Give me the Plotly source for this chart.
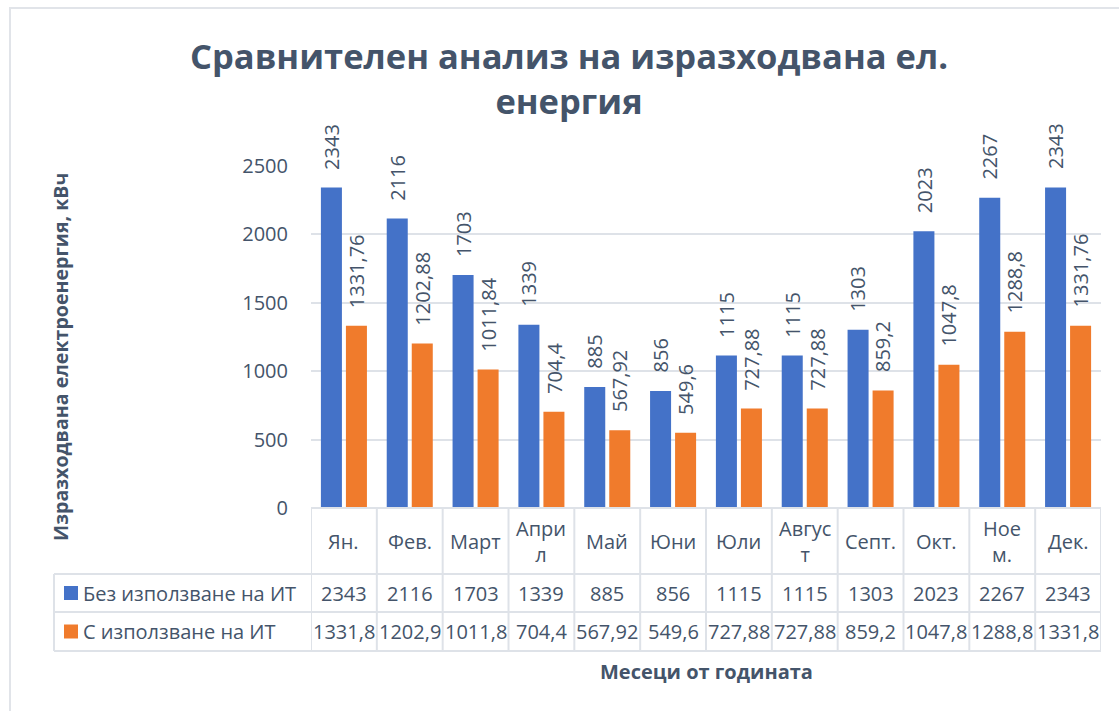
import plotly.graph_objects as go

# ---------------- data ----------------
months = ["Ян.", "Фев.", "Март", "Април", "Май", "Юни", "Юли", "Август",
          "Септ.", "Окт.", "Ноем.", "Дек."]
month_table_labels = ["Ян.", "Фев.", "Март", "Апри<br>л", "Май", "Юни", "Юли",
                      "Авгус<br>т", "Септ.", "Окт.", "Ное<br>м.", "Дек."]
series_names = ["Без използване на ИТ", "С използване на ИТ"]
without_it = [2343, 2116, 1703, 1339, 885, 856, 1115, 1115, 1303, 2023, 2267, 2343]
with_it = [1331.76, 1202.88, 1011.84, 704.4, 567.92, 549.6, 727.88, 727.88,
           859.2, 1047.8, 1288.8, 1331.76]
with_it_table = ["1331,8", "1202,9", "1011,8", "704,4", "567,92", "549,6",
                 "727,88", "727,88", "859,2", "1047,8", "1288,8", "1331,8"]
y_ticks = [0, 500, 1000, 1500, 2000, 2500]

title_text = "Сравнителен анализ на изразходвана ел.<br>енергия"
y_title = "Изразходвана електроенергия, кВч"
x_title = "Месеци от годината"

# ---------------- styling ----------------
W, H = 1119, 711
PL, PR, PT, PB = 311, 1101, 166, 508   # plot area in pixels
FONT = "Open Sans"
TXT = "#44546A"
BLUE = "#4472C8"
ORANGE = "#F07B2C"
LINE = "#DEE2E8"


def px_x(px):
    return (px - PL) / (PR - PL)


def px_y(py):
    return (PB - py) / (PB - PT)


def fmt(v):
    return f"{v:g}".replace(".", ",")


fig = go.Figure()
fig.add_trace(go.Bar(x=months, y=without_it, name=series_names[0],
                     marker=dict(color=BLUE, line=dict(width=0))))
fig.add_trace(go.Bar(x=months, y=with_it, name=series_names[1],
                     marker=dict(color=ORANGE, line=dict(width=0))))

annotations = []
shapes = []

# data labels above bars (rotated)
for i, m in enumerate(months):
    for vals, xs in ((without_it, -12.5), (with_it, 12.5)):
        annotations.append(dict(
            x=i, y=vals[i], xref="x", yref="y", text=fmt(vals[i]),
            textangle=-90, showarrow=False, xanchor="center", yanchor="bottom",
            xshift=xs, yshift=16, font=dict(family=FONT, size=20, color=TXT)))

# data table
row_cat = (508, 574)
row1 = (574, 612)
row2 = (612, 651)
for i in range(len(months)):
    annotations.append(dict(
        x=i, y=px_y(sum(row_cat) / 2), xref="x", yref="paper",
        text=month_table_labels[i], showarrow=False, xanchor="center", yanchor="middle",
        font=dict(family=FONT, size=20, color=TXT)))
    annotations.append(dict(
        x=i, y=px_y(sum(row1) / 2), xref="x", yref="paper",
        text=str(without_it[i]), showarrow=False, xanchor="center", yanchor="middle",
        font=dict(family=FONT, size=20, color=TXT)))
    annotations.append(dict(
        x=i, y=px_y(sum(row2) / 2), xref="x", yref="paper",
        text=with_it_table[i], showarrow=False, xanchor="center", yanchor="middle",
        font=dict(family=FONT, size=20, color=TXT)))

# table grid lines
for k in range(len(months) + 1):
    shapes.append(dict(type="line", xref="x", yref="paper",
                       x0=k - 0.5, x1=k - 0.5, y0=px_y(508), y1=px_y(651),
                       line=dict(color=LINE, width=2)))
shapes.append(dict(type="line", xref="paper", yref="paper",
                   x0=px_x(54), x1=px_x(54), y0=px_y(574), y1=px_y(651),
                   line=dict(color=LINE, width=2)))
shapes.append(dict(type="line", xref="paper", yref="paper",
                   x0=0, x1=1, y0=px_y(508), y1=px_y(508),
                   line=dict(color=LINE, width=2)))
for yy in (574, 612, 651):
    shapes.append(dict(type="line", xref="paper", yref="paper",
                       x0=px_x(54), x1=1, y0=px_y(yy), y1=px_y(yy),
                       line=dict(color=LINE, width=2)))

# legend keys + names in the table
for (r0, r1), col, name in ((row1, BLUE, series_names[0]), (row2, ORANGE, series_names[1])):
    cy = (r0 + r1) / 2
    shapes.append(dict(type="rect", xref="paper", yref="paper",
                       x0=px_x(64), x1=px_x(78), y0=px_y(cy + 7), y1=px_y(cy - 7),
                       fillcolor=col, line=dict(width=0)))
    annotations.append(dict(
        x=px_x(81), y=px_y(cy), xref="paper", yref="paper", text=name,
        showarrow=False, xanchor="left", yanchor="middle",
        font=dict(family=FONT, size=20, color=TXT)))

# outer chart border
shapes.append(dict(type="rect", xref="paper", yref="paper",
                   x0=px_x(10), x1=px_x(1125), y0=px_y(8), y1=px_y(720),
                   line=dict(color="#E1E4E9", width=2), fillcolor="rgba(0,0,0,0)"))

# titles
annotations.append(dict(
    x=px_x(569), y=px_y(78), xref="paper", yref="paper", text="<b>" + title_text + "</b>",
    showarrow=False, xanchor="center", yanchor="middle",
    font=dict(family=FONT, size=34.5, color=TXT)))
annotations.append(dict(
    x=px_x(60), y=px_y(357), xref="paper", yref="paper", text="<b>" + y_title + "</b>",
    showarrow=False, textangle=-90, xanchor="center", yanchor="middle",
    font=dict(family=FONT, size=19.6, color=TXT)))
annotations.append(dict(
    x=px_x(706), y=px_y(671), xref="paper", yref="paper", text="<b>" + x_title + "</b>",
    showarrow=False, xanchor="center", yanchor="middle",
    font=dict(family=FONT, size=20, color=TXT)))

fig.update_layout(
    width=W, height=H, autosize=False,
    margin=dict(l=PL, r=W - PR, t=PT, b=H - PB, pad=0),
    paper_bgcolor="white", plot_bgcolor="white",
    barmode="group", bargap=0.24, bargroupgap=0.16,
    showlegend=False,
    font=dict(family=FONT, color=TXT),
    xaxis=dict(showticklabels=False, showgrid=False, zeroline=False, showline=False,
               ticks="", range=[-0.5, len(months) - 0.5]),
    yaxis=dict(range=[0, 2500], tickvals=y_ticks, showgrid=True, gridcolor=LINE,
               gridwidth=2, zeroline=False, showline=False, ticks="",
               ticklabelstandoff=22,
               tickfont=dict(family=FONT, size=20, color=TXT)),
    annotations=annotations,
    shapes=shapes,
)

fig.write_html(
    "out.html",
    config={"displayModeBar": False},
    post_script="document.body.style.margin='0px';"
                "document.documentElement.style.overflow='hidden';",
)
